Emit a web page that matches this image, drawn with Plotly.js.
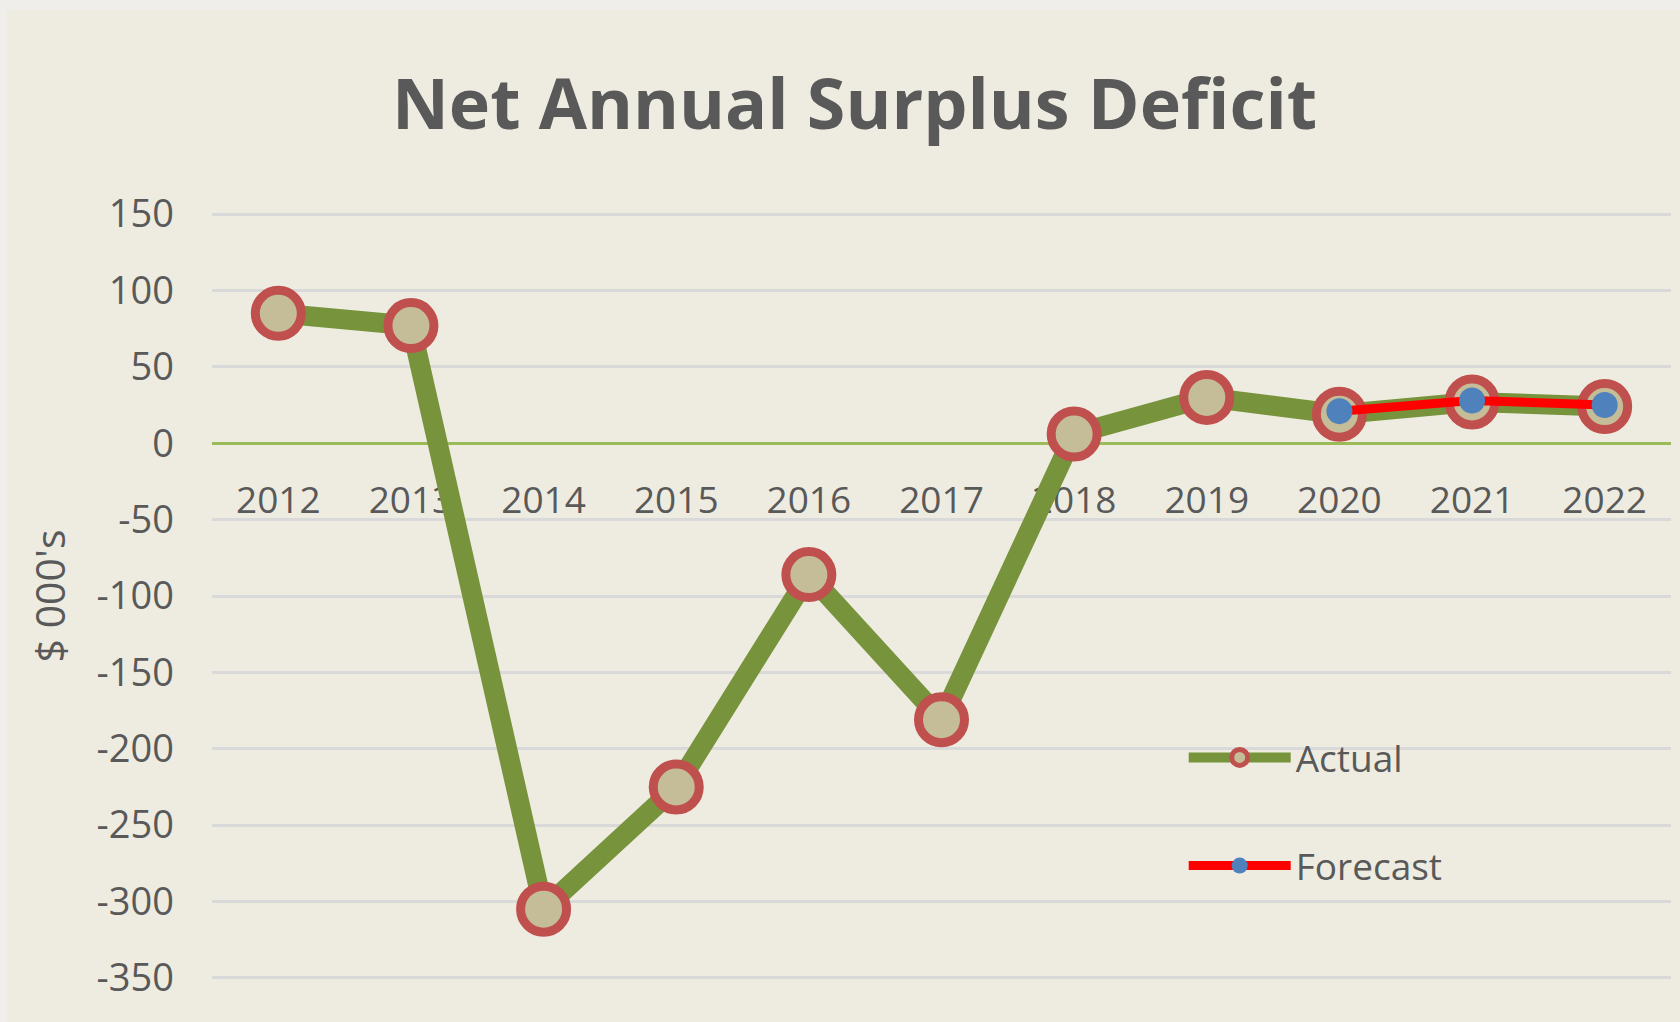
<!DOCTYPE html>
<html>
<head>
<meta charset="utf-8">
<script src="https://cdn.plot.ly/plotly-3.0.1.min.js"></script>
<style>
  html, body { margin: 0; padding: 0; background: #efeeea; }
  #chart { position: absolute; left: 7px; top: 10px; width: 1673px; height: 1012px; }
</style>
</head>
<body>
<div id="chart"></div>
<script>
const years = ['2012','2013','2014','2015','2016','2017','2018','2019','2020','2021','2022'];
const actualValues = [85, 77, -305, -225, -86, -181, 6, 30, 19, 27, 24];
const forecastYears = ['2020','2021','2022'];
const forecastValues = [21, 28, 25];
const yTicks = [150, 100, 50, 0, -50, -100, -150, -200, -250, -300, -350];
const yTickLabels = ['150', '100', '50', '0', '-50', '-100', '-150', '-200', '-250', '-300', '-350'];

const FONT = '"Open Sans", "Noto Sans", sans-serif';
const TXT = '#595959';

const traces = [
  {
    type: 'scatter', mode: 'lines+markers', name: 'Actual',
    x: years, y: actualValues, legendgroup: 'a',
    line: { color: '#77933c', width: 20 },
    marker: { size: 46, color: '#c4bd97', line: { color: '#c0504d', width: 9 } },
    hoverinfo: 'x+y'
  },
  {
    type: 'scatter', mode: 'lines+markers', name: 'Forecast',
    x: forecastYears, y: forecastValues, legendgroup: 'f',
    line: { color: '#ff0000', width: 9 },
    marker: { size: 26, color: '#4f81bd' },
    hoverinfo: 'x+y'
  }
];

const layout = {
  width: 1673, height: 1012,
  paper_bgcolor: '#eeece1', plot_bgcolor: '#eeece1',
  margin: { l: 205, r: 9, t: 201, b: 41 },
  font: { family: FONT, color: TXT, size: 37 },
  title: {
    text: 'Net Annual Surplus Deficit',
    font: { family: FONT, size: 70, color: TXT, weight: 700 },
    x: 0.5066, xref: 'container', xanchor: 'center',
    y: 0.907, yref: 'container', yanchor: 'middle'
  },
  xaxis: {
    type: 'category', range: [-0.5, 10.5],
    anchor: 'free', position: 352 / 504,
    showgrid: false, showline: false, zeroline: false,
    ticks: '', ticklabelstandoff: 32,
    tickfont: { family: FONT, size: 37, color: TXT },
    layer: 'below traces', fixedrange: true
  },
  yaxis: {
    range: [-352, 152], tickvals: yTicks, ticktext: yTickLabels,
    showgrid: true, gridcolor: '#d9d9d9', gridwidth: 3,
    zeroline: true, zerolinecolor: '#9bbb59', zerolinewidth: 3,
    showline: false, ticks: '', ticklabelstandoff: 37,
    tickfont: { family: FONT, size: 38, color: TXT },
    title: { text: "$ 000's", font: { family: FONT, size: 41, color: TXT }, standoff: 18 },
    fixedrange: true
  },
  showlegend: true,
  legend: {
    x: 0.666, y: 0.33, xanchor: 'left', yanchor: 'top',
    bgcolor: 'rgba(0,0,0,0)', traceorder: 'grouped', tracegroupgap: 57,
    itemwidth: 102, font: { family: FONT, size: 37, color: TXT },
    itemclick: false, itemdoubleclick: false
  }
};

Plotly.newPlot('chart', traces, layout, { displayModeBar: false, staticPlot: true });
</script>
</body>
</html>
